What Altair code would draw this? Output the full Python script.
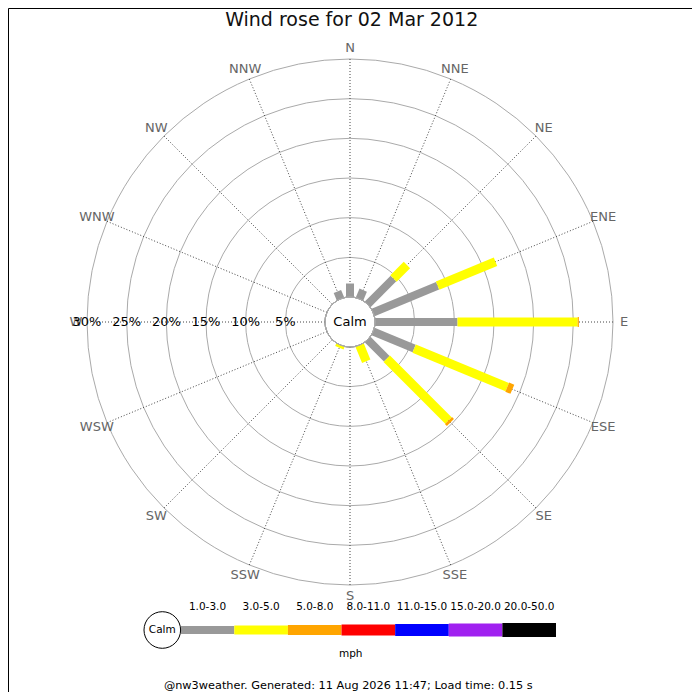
import math

import altair as alt
import pandas as pd

# Texts
title_text = ["Wind rose for 02 Mar 2012"]
footer_text = ["@nw3weather. Generated: 11 Aug 2026 11:47; Load time: 0.15 s"]
unit_text = ["mph"]
calm_text = ["Calm"]

# Directions, clockwise from north
directions = ["N", "NNE", "NE", "ENE", "E", "ESE", "SE", "SSE",
              "S", "SSW", "SW", "WSW", "W", "WNW", "NW", "NNW"]

# Percentage of the day per direction, per speed band
gray_pct = [1.7, 1.2, 4.6, 8.8, 10.4, 5.6, 3.4, 0, 0, 0, 0, 0, 0, 0, 0, 1.0]
yellow_pct = [0, 0, 2.4, 7.9, 15.15, 12.7, 11.0, 2.2, 0, 0.35, 0, 0, 0, 0, 0, 0]
orange_pct = [0, 0, 0, 0, 0.15, 0.7, 0.35, 0, 0, 0, 0, 0, 0, 0, 0, 0]

speed_bands = ["1.0-3.0", "3.0-5.0", "5.0-8.0", "8.0-11.0",
               "11.0-15.0", "15.0-20.0", "20.0-50.0"]
band_colors = ["#999999", "#ffff00", "#ffa500", "#ff0000",
               "#0000ff", "#a020f0", "#000000"]
band_widths = [8, 14, 20, 23, 25, 27, 28]

ring_pct = [5, 10, 15, 20, 25, 30]

# Layout (plot pixels)
CX, CY = 342, 314          # centre of the rose
CALM_PX, RING_PX = 25, 263  # calm circle radius, 30% ring radius
LABEL_PX = 274
C = CALM_PX * 30 / (RING_PX - CALM_PX)  # calm radius in % units
R = C + 30
L = LABEL_PX * R / RING_PX

# Build the tables
seg_rows = []
for i, d in enumerate(directions):
    lo = 0.0
    for band, vals in zip(speed_bands, (gray_pct, yellow_pct, orange_pct)):
        v = vals[i]
        if v > 0:
            seg_rows.append({"dir": d, "angle": i * 22.5, "band": band,
                             "lo": lo, "hi": lo + v})
            lo += v
segments = pd.DataFrame(seg_rows)
dirs_df = pd.DataFrame({"dir": directions,
                        "angle": [i * 22.5 for i in range(len(directions))]})
rings_df = pd.DataFrame({"ring": ring_pct})
calm_df = pd.DataFrame({"ring": [0], "t": calm_text})
legend_df = pd.DataFrame({"band": speed_bands,
                          "lo": list(range(len(speed_bands))),
                          "hi": list(range(1, len(speed_bands) + 1))})
legend_df["mid"] = legend_df["lo"] + 0.5

# Scales
xs = alt.Scale(domain=[-R, R], range=[CX - RING_PX, CX + RING_PX], nice=False, zero=False)
ys = alt.Scale(domain=[-R, R], range=[CY + RING_PX, CY - RING_PX], nice=False, zero=False)
rs = alt.Scale(type="linear", domain=[-C, 30], range=[0, RING_PX], zero=False, nice=False)
size_scale = alt.Scale(domain=speed_bands, range=band_widths)
color_scale = alt.Scale(domain=speed_bands, range=band_colors)

# Rings
rings = alt.Chart(rings_df).mark_arc(
    theta=0, theta2=2 * math.pi, fillOpacity=0, stroke="#aaaaaa", strokeWidth=1
).encode(
    x=alt.XDatum(0, scale=xs, axis=None),
    y=alt.YDatum(0, scale=ys, axis=None),
    radius=alt.Radius("ring:Q", scale=rs, stack=False),
)

# Dotted spokes
spokes = alt.Chart(dirs_df).transform_calculate(
    x0=f"{C}*sin(datum.angle*PI/180)",
    y0=f"{C}*cos(datum.angle*PI/180)",
    x1=f"{R}*sin(datum.angle*PI/180)",
    y1=f"{R}*cos(datum.angle*PI/180)",
).mark_rule(color="#444444", strokeWidth=1, strokeDash=[1, 2]).encode(
    x=alt.X("x0:Q", scale=xs, axis=None),
    y=alt.Y("y0:Q", scale=ys, axis=None),
    x2="x1:Q",
    y2="y1:Q",
)

# Bars
bars = alt.Chart(segments).transform_calculate(
    x0=f"({C}+datum.lo)*sin(datum.angle*PI/180)",
    y0=f"({C}+datum.lo)*cos(datum.angle*PI/180)",
    x1=f"({C}+datum.hi)*sin(datum.angle*PI/180)",
    y1=f"({C}+datum.hi)*cos(datum.angle*PI/180)",
).mark_rule(strokeCap="butt").encode(
    x=alt.X("x0:Q", scale=xs, axis=None),
    y=alt.Y("y0:Q", scale=ys, axis=None),
    x2="x1:Q",
    y2="y1:Q",
    color=alt.Color("band:N", scale=color_scale, legend=None),
    size=alt.Size("band:O", scale=size_scale, legend=None),
)

# Calm circle in the middle
calm_circle = alt.Chart(calm_df).mark_arc(
    theta=0, theta2=2 * math.pi, fill="white", stroke="#aaaaaa", strokeWidth=1
).encode(
    x=alt.XDatum(0, scale=xs, axis=None),
    y=alt.YDatum(0, scale=ys, axis=None),
    radius=alt.Radius("ring:Q", scale=rs, stack=False),
)
calm_label = alt.Chart(calm_df).mark_text(fontSize=13, color="black").encode(
    x=alt.XDatum(0, scale=xs, axis=None),
    y=alt.YDatum(0, scale=ys, axis=None),
    text="t:N",
)

# Direction labels
dir_labels = alt.Chart(dirs_df).transform_calculate(
    lx=f"{L}*sin(datum.angle*PI/180)",
    ly=f"{L}*cos(datum.angle*PI/180)",
).mark_text(fontSize=13, color="#666666", baseline="middle").encode(
    x=alt.X("lx:Q", scale=xs, axis=None),
    y=alt.Y("ly:Q", scale=ys, axis=None),
    text="dir:N",
)

# Ring labels along the west axis
ring_labels = alt.Chart(rings_df).transform_calculate(
    lx=f"-({C}+datum.ring)",
    ly="0",
    label="datum.ring + '%'",
).mark_text(fontSize=13, color="black", baseline="middle").encode(
    x=alt.X("lx:Q", scale=xs, axis=None),
    y=alt.Y("ly:Q", scale=ys, axis=None),
    text="label:N",
)

rose = alt.layer(rings, spokes, bars, calm_circle, calm_label, dir_labels, ring_labels)

# Legend along the bottom
lxs = alt.Scale(domain=[0, len(speed_bands)], range=[172.7, 548], nice=False, zero=False)
legend_bars = alt.Chart(legend_df).mark_rule(strokeCap="butt").encode(
    x=alt.X("lo:Q", scale=lxs, axis=None),
    x2="hi:Q",
    y=alt.value(622),
    color=alt.Color("band:N", scale=color_scale, legend=None),
    size=alt.Size("band:O", scale=size_scale, legend=None),
)
legend_text = alt.Chart(legend_df).mark_text(fontSize=10.5, color="black").encode(
    x=alt.X("mid:Q", scale=lxs, axis=None),
    y=alt.value(599),
    text="band:N",
)
legend_calm = alt.Chart(calm_df).mark_point(
    shape="circle", size=1340, filled=True, fill="white", stroke="black",
    strokeWidth=1, opacity=1
).encode(x=alt.value(154.3), y=alt.value(622))
legend_calm_text = alt.Chart(calm_df).mark_text(fontSize=10.5, color="black").encode(
    x=alt.value(154.3), y=alt.value(622), text="t:N"
)
unit_label = alt.Chart(pd.DataFrame({"t": unit_text})).mark_text(
    fontSize=10.5, color="black"
).encode(x=alt.value(342.7), y=alt.value(646), text="t:N")

title = alt.Chart(pd.DataFrame({"t": title_text})).mark_text(
    fontSize=19, color="#111111", baseline="alphabetic"
).encode(x=alt.value(343.7), y=alt.value(18), text="t:N")
footer = alt.Chart(pd.DataFrame({"t": footer_text})).mark_text(
    fontSize=11.3, color="black", baseline="alphabetic"
).encode(x=alt.value(340.3), y=alt.value(681), text="t:N")

legend = alt.layer(legend_bars, legend_text, legend_calm, legend_calm_text,
                   unit_label, title, footer)

chart = (
    alt.layer(rose, legend)
    .resolve_scale(x="independent", y="independent")
    .properties(width=684, height=684, autosize="none", padding=0)
    .configure_view(stroke="black", strokeWidth=1)
    .configure_text(font="DejaVu Sans")
)

chart.save("out.html", embed_options={"renderer": "svg", "actions": False})
